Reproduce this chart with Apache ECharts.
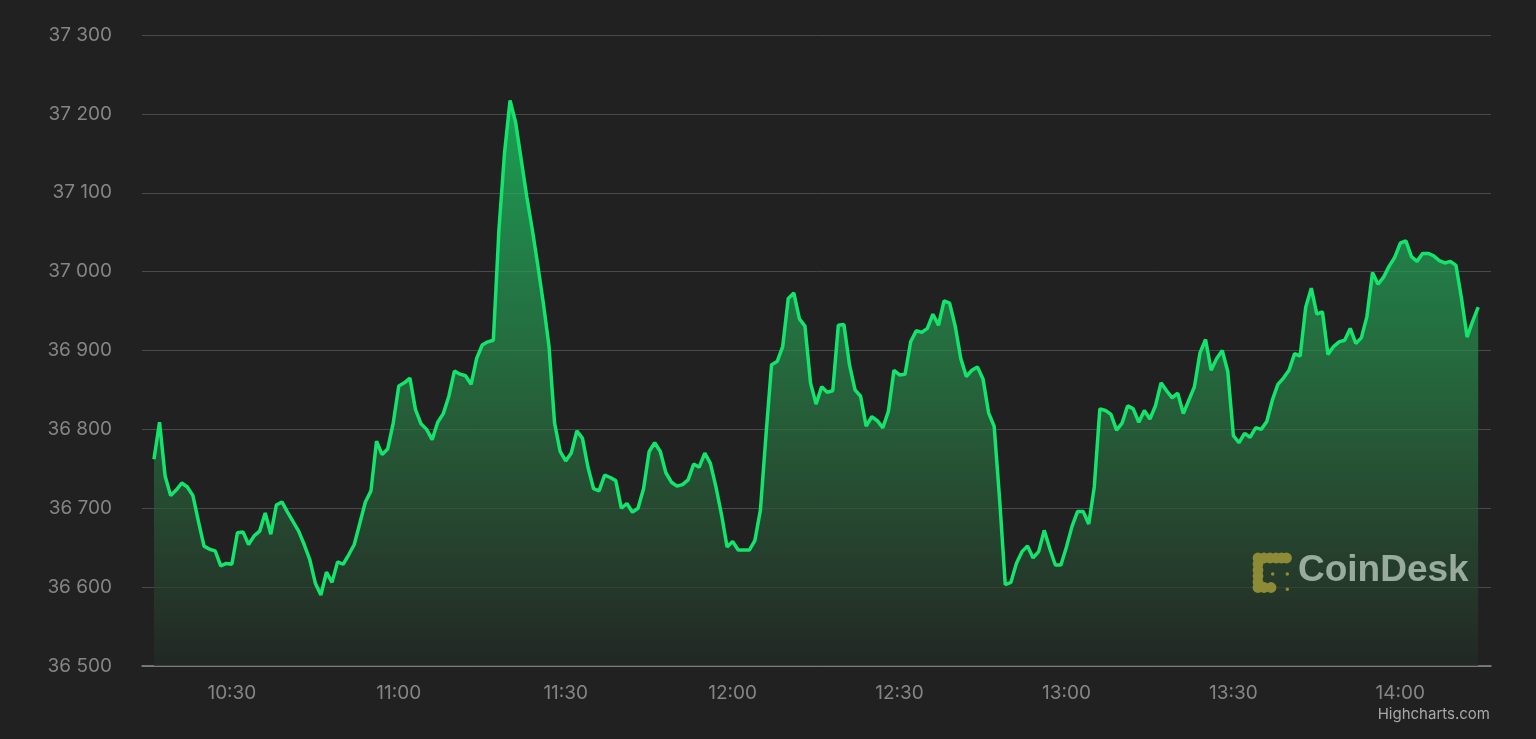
<!DOCTYPE html>
<html>
<head>
<meta charset="utf-8">
<script src="https://cdn.jsdelivr.net/npm/echarts@6/dist/echarts.min.js"></script>
<style>
html,body{margin:0;padding:0;background:#212121;}
#chart{width:1536px;height:739px;}
</style>
</head>
<body>
<div id="chart"></div>
<script>
// Price samples, one per minute starting at 10:16
const startTime = '10:16';
const prices = [
36762,36809,36741,36716,36723,36732,36727,36716,36683,36652,
36648,36646,36627,36630,36629,36669,36670,36654,36665,36671,
36694,36667,36704,36708,36695,36683,36671,36654,36635,36605,
36590,36619,36606,36632,36629,36641,36654,36681,36708,36722,
36785,36768,36775,36808,36855,36859,36865,36825,36807,36800,
36787,36809,36820,36842,36874,36870,36868,36857,36890,36907,
36911,36913,37053,37150,37217,37189,37142,37095,37053,37007,
36959,36905,36808,36772,36760,36770,36798,36789,36752,36725,
36722,36742,36739,36735,36700,36706,36695,36700,36725,36772,
36783,36772,36745,36733,36728,36730,36736,36756,36752,36770,
36757,36727,36692,36651,36658,36647,36647,36647,36659,36698,
36793,36882,36886,36905,36966,36973,36940,36931,36859,36832,
36854,36847,36849,36932,36933,36882,36850,36842,36804,36816,
36811,36802,36823,36875,36869,36870,36911,36925,36923,36928,
36946,36932,36963,36960,36931,36890,36867,36875,36879,36864,
36821,36804,36710,36603,36606,36630,36645,36652,36637,36645,
36672,36649,36628,36628,36651,36677,36696,36696,36680,36727,
36826,36824,36819,36799,36808,36830,36826,36809,36824,36813,
36830,36859,36849,36840,36846,36820,36837,36854,36897,36914,
36875,36890,36900,36873,36792,36783,36795,36790,36802,36800,
36810,36837,36857,36865,36875,36896,36893,36955,36979,36946,
36949,36895,36905,36911,36913,36928,36909,36916,36943,36999,
36984,36993,37007,37018,37036,37039,37019,37013,37023,37023,
37020,37014,37011,37013,37008,36966,36917,36937,36955
];
const xTickLabels = ['10:30','11:00','11:30','12:00','12:30','13:00','13:30','14:00'];
const yTicks = [36500,36600,36700,36800,36900,37000,37100,37200,37300];

function toMin(s){const p=s.split(':');return (+p[0])*60+(+p[1]);}
function fmtMin(m){const h=Math.floor(m/60), mm=Math.round(m%60);return h+':'+(mm<10?'0':'')+mm;}
const t0 = toMin(startTime);
const seriesData = prices.map((v,i)=>[t0+i, v]);
const tickMinutes = xTickLabels.map(toMin);

const chart = echarts.init(document.getElementById('chart'), null, {renderer:'canvas'});
const olive = '#8d8b36';
const logo = [];
[[1258,558],[1264,558],[1270,558],[1276,558],[1281.5,558],[1286.5,558],
 [1258,564],[1258,570],[1258,576],[1258,582],[1258,587.5],
 [1264,587.5],[1271,587.5]].forEach(c=>{
  logo.push({type:'circle', shape:{cx:c[0], cy:c[1], r:5.4}, style:{fill:olive}, z:100});
});
[[1272.7,574],[1287.3,574],[1287.3,589.3]].forEach(c=>{
  logo.push({type:'circle', shape:{cx:c[0], cy:c[1], r:1.8}, style:{fill:olive}, z:100});
});

chart.setOption({
  backgroundColor:'#212121',
  animation:false,
  grid:{left:142, right:45, top:35, bottom:73, containLabel:false},
  xAxis:{
    type:'value',
    min: t0 - 2.15,
    max: t0 + prices.length - 1 + 2.3,
    axisLine:{show:true, onZero:false, lineStyle:{color:'#8c8c8c', width:1.5}},
    axisTick:{show:false},
    splitLine:{show:false},
    axisLabel:{
      customValues: tickMinutes,
      formatter: v => fmtMin(v),
      color:'#858585', fontSize:19, fontFamily:'Inter', margin:18
    }
  },
  yAxis:{
    type:'value',
    min: yTicks[0], max: yTicks[yTicks.length-1], interval:100,
    axisLine:{show:false}, axisTick:{show:false},
    splitLine:{lineStyle:{color:'#4a4a4a', width:1}},
    axisLabel:{
      formatter: v => String(v).replace(/\B(?=(\d{3})+(?!\d))/g,' '),
      color:'#858585', fontSize:19, fontFamily:'Inter', margin:30
    }
  },
  series:[{
    type:'line',
    data: seriesData,
    showSymbol:false,
    smooth:false,
    lineStyle:{color:'#12e46c', width:3.5},
    areaStyle:{
      color: new echarts.graphic.LinearGradient(0,0,0,1,[
        {offset:0, color:'#18d86a'},
        {offset:0.3, color:'#23a055'},
        {offset:0.44, color:'#268c4b'},
        {offset:0.58, color:'#287341'},
        {offset:0.72, color:'#285a37'},
        {offset:0.87, color:'#26412d'},
        {offset:1, color:'#222a25'}
      ])
    },
    z:2
  }],
  graphic: logo.concat([
    {type:'text', left:1298, top:552, z:100,
     style:{text:'CoinDesk', fill:'rgba(225,240,225,0.62)', font:'bold 37px "Liberation Sans", Arial, sans-serif'}},
    {type:'text', right:46, top:707, z:100,
     style:{text:'Highcharts.com', fill:'#a8a8a8', font:'15px Inter, sans-serif'}}
  ])
});
</script>
</body>
</html>
